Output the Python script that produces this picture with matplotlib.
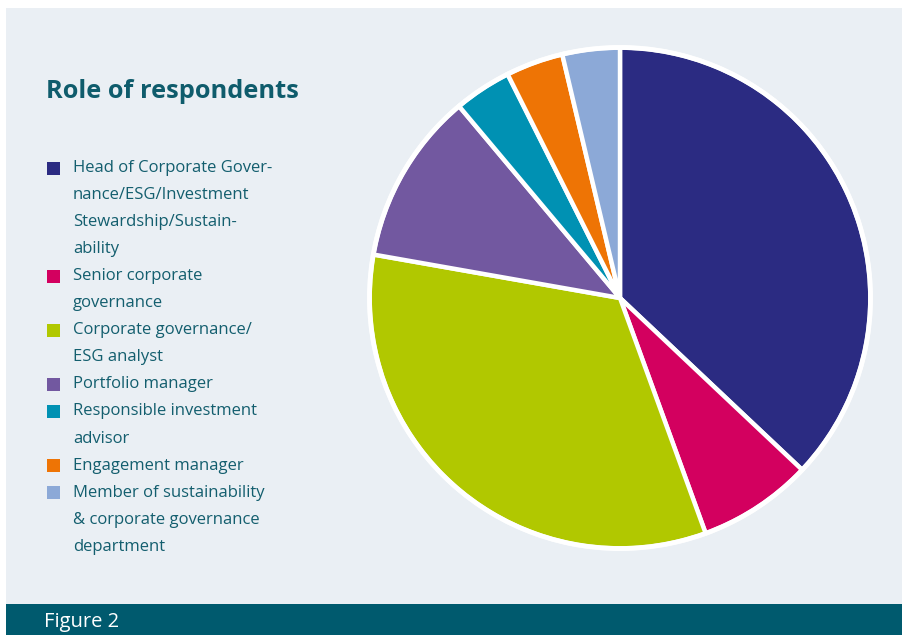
import matplotlib.pyplot as plt
import matplotlib.patches as patches

plt.rcParams["font.family"] = ["Open Sans", "DejaVu Sans"]

# data
labels = [
    "Head of Corporate Gover-\nnance/ESG/Investment\nStewardship/Sustain-\nability",
    "Senior corporate\ngovernance",
    "Corporate governance/\nESG analyst",
    "Portfolio manager",
    "Responsible investment\nadvisor",
    "Engagement manager",
    "Member of sustainability\n& corporate governance\ndepartment",
]
counts = [10, 2, 9, 3, 1, 1, 1]
colors = ["#2B2B82", "#D3005F", "#B1C800", "#7258A0", "#0091B3", "#EE7405", "#8CA9D7"]

title = "Role of respondents"
footer = "Figure 2"

W, H = 902, 635
fig = plt.figure(figsize=(W / 100, H / 100), dpi=100, facecolor="white")

# background panel and footer bar (pixel coords)
bg = fig.add_axes([0, 0, 1, 1])
bg.set_xlim(0, W)
bg.set_ylim(H, 0)
bg.axis("off")
bg.add_patch(patches.Rectangle((6, 8), W - 6, 597, facecolor="#EAEFF4", edgecolor="none"))
bg.add_patch(patches.Rectangle((6, 604), W - 6, 31, facecolor="#005A6E", edgecolor="none"))
bg.text(44, 622, footer, fontsize=14.5, color="white", va="center", ha="left",
        family=["Liberation Sans Narrow", "Open Sans"])

text_col = "#135E6E"
bg.text(46, 92, title, fontsize=18.3, fontweight="bold", color="#0F5C6C", va="center", ha="left")

# legend
y = 168
step = 27.05
for lab, col in zip(labels, colors):
    bg.add_patch(patches.Rectangle((47, y - 6.5), 13, 13, facecolor=col, edgecolor="none"))
    for k, line in enumerate(lab.split("\n")):
        bg.text(73, y + k * step, line, fontsize=12, color=text_col, va="center", ha="left")
    y += step * len(lab.split("\n"))

# pie
cx, cy, r = 620, 298, 253
ax = fig.add_axes([(cx - r) / W, 1 - (cy + r) / H, 2 * r / W, 2 * r / H])
ax.pie(counts, colors=colors, startangle=90, counterclock=False,
       wedgeprops=dict(edgecolor="white", linewidth=3.2))
ax.add_patch(patches.Circle((0, 0), 1.0, facecolor="none", edgecolor="white", linewidth=3.5))
ax.set_xlim(-1.01, 1.01)
ax.set_ylim(-1.01, 1.01)
ax.set_aspect("equal")
ax.axis("off")

fig.savefig("out.png", dpi=100, facecolor="white")
